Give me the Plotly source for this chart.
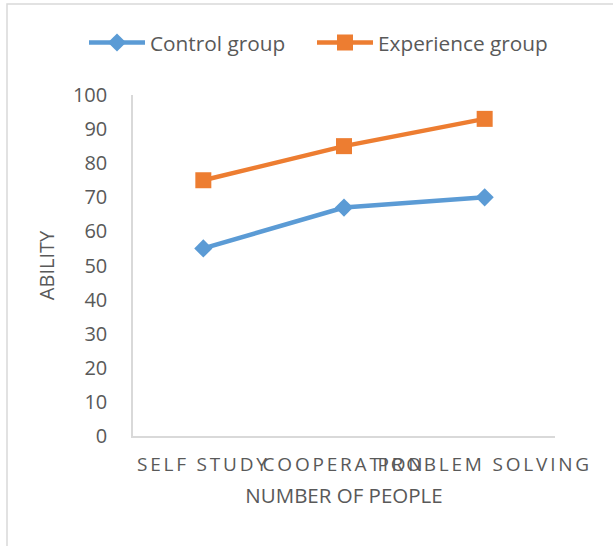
import plotly.graph_objects as go

categories = ["SELF STUDY", "COOPERATION", "PROBLEM SOLVING"]
control_group = [55, 67, 70]
experience_group = [75, 85, 93]
y_ticks = list(range(0, 101, 10))

FONT = "Open Sans"
TXT = "#595959"

fig = go.Figure()
fig.add_trace(go.Scatter(
    x=categories, y=control_group, name="Control group", mode="lines+markers",
    line=dict(color="#5B9BD5", width=4.5),
    marker=dict(symbol="diamond", size=14, color="#5B9BD5"),
    legend="legend",
))
fig.add_trace(go.Scatter(
    x=categories, y=experience_group, name="Experience group", mode="lines+markers",
    line=dict(color="#ED7D31", width=4.5),
    marker=dict(symbol="square", size=16, color="#ED7D31"),
    legend="legend2",
))

leg_common = dict(orientation="h", xref="container", yref="container",
                  xanchor="left", y=1 - 43 / 546, yanchor="middle",
                  font=dict(family=FONT, size=20.8, color=TXT), itemwidth=56,
                  bgcolor="rgba(0,0,0,0)")

fig.update_layout(
    width=613, height=546,
    margin=dict(l=133, r=58, t=95, b=110, autoexpand=False),
    paper_bgcolor="white", plot_bgcolor="white",
    font=dict(family=FONT, size=20, color=TXT),
    showlegend=True,
    legend=dict(x=84 / 613, **leg_common),
    legend2=dict(x=312 / 613, **leg_common),
    xaxis=dict(type="category", categoryorder="array", categoryarray=categories,
               range=[-0.5, 2.5], showgrid=False, showline=True, linecolor="#D9D9D9",
               linewidth=1.5, ticks="", zeroline=False, tickangle=0,
               tickfont=dict(family=FONT, size=19, color=TXT), ticklabelstandoff=10,
               title=dict(text="NUMBER OF PEOPLE", font=dict(family=FONT, size=20.5, color=TXT),
                          standoff=13)),
    yaxis=dict(range=[0, 100], tickvals=y_ticks, showgrid=False, showline=True,
               linecolor="#D9D9D9", linewidth=1.5, ticks="", zeroline=False,
               tickfont=dict(family=FONT, size=20, color=TXT), ticklabelstandoff=20,
               title=dict(text="ABILITY", font=dict(family=FONT, size=20, color=TXT),
                          standoff=13)),
    shapes=[dict(type="rect", xref="paper", yref="paper",
                 x0=(7 - 133) / 422, x1=(640 - 133) / 422,
                 y0=(436 - 560) / 341, y1=(436 - 4) / 341,
                 line=dict(color="#D9D9D9", width=1.5), fillcolor="rgba(0,0,0,0)", layer="below")],
)

post = ("document.body.style.margin='0';"
        "var s=document.createElement('style');"
        "s.textContent='body{margin:0}.xtick text{letter-spacing:2.8px}';"
        "document.head.appendChild(s);")
fig.write_html("out.html", post_script=post, config={"displayModeBar": False})
